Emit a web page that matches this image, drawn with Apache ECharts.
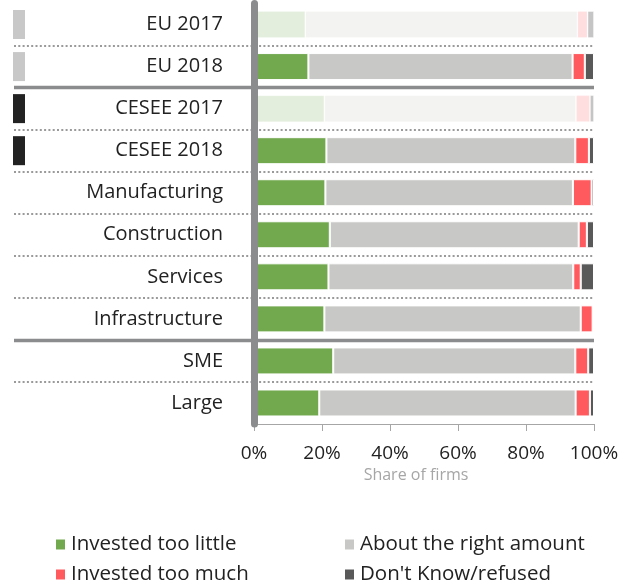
<!DOCTYPE html>
<html>
<head>
<meta charset="utf-8">
<script src="https://cdn.jsdelivr.net/npm/echarts@6/dist/echarts.min.js"></script>
<style>
html,body{margin:0;padding:0;background:#fff;}
#chart{width:636px;height:586px;}
</style>
</head>
<body>
<div id="chart"></div>
<script>
// ---- data ----
var categories = ['EU 2017','EU 2018','CESEE 2017','CESEE 2018','Manufacturing','Construction','Services','Infrastructure','SME','Large'];
var investedTooLittle = [15.1, 16.0, 20.7, 21.3, 21.0, 22.3, 21.9, 20.7, 23.3, 19.2];
var aboutRight        = [80.0, 77.7, 74.0, 73.2, 72.8, 73.2, 72.0, 75.4, 71.2, 75.4];
var investedTooMuch   = [3.0, 3.6, 4.1, 4.0, 5.5, 2.4, 2.2, 3.5, 3.8, 4.2];
var dontKnow          = [1.9, 2.7, 1.2, 1.5, 0.7, 2.1, 3.9, 0.4, 1.7, 1.2];
var seriesNames = ['Invested too little','About the right amount','Invested too much',"Don't Know/refused"];
var fadedRows = ['EU 2017','CESEE 2017'];
var markerGroup = ['EU','EU','CESEE','CESEE','','','','','',''];
var solidAfter = ['EU 2018','Infrastructure'];
var xTicks = [0, 20, 40, 60, 80, 100];

// ---- styles ----
var colors = ['#72a94f','#c8c8c6','#ff5b5e','#595959'];
var fadedOpacity = [0.2, 0.22, 0.2, 0.35];
var markerColors = {EU:'#c8c8c8', CESEE:'#222222'};
var FONT = '"Open Sans", "Noto Sans", sans-serif';

var allValues = [investedTooLittle, aboutRight, investedTooMuch, dontKnow];
function mk(values, k){
  return values.map(function(v,i){
    var faded = fadedRows.indexOf(categories[i]) >= 0;
    return faded ? {value:v, itemStyle:{opacity:fadedOpacity[k]}} : v;
  });
}

var TOP = 3.5, HEIGHT = 420.5;

var series = allValues.map(function(vals, k){
  return {
    name: seriesNames[k], type:'bar', stack:'total',
    xAxisIndex:0, yAxisIndex:0,
    barWidth: 27,
    itemStyle:{color:colors[k], borderColor:'#ffffff', borderWidth:1},
    data: mk(vals, k),
    z:2
  };
});

// separators
var sepData = [];
for (var i = 1; i < categories.length; i++) {
  var solid = solidAfter.indexOf(categories[i-1]) >= 0;
  sepData.push({
    yAxis: i,
    lineStyle: solid ? {type:'solid', width:3.3, color:'#8a8c8e'}
                     : {type:[2,2.3], width:2, color:'#9a9a9a'}
  });
}
series.push({
  type:'line', xAxisIndex:1, yAxisIndex:1, data:[[0,0]],
  symbol:'none', lineStyle:{opacity:0}, silent:true, z:1,
  markLine:{silent:true, symbol:['none','none'], label:{show:false}, animation:false, data: sepData}
});

// markers
series.push({
  type:'bar', xAxisIndex:2, yAxisIndex:2, barWidth:29, silent:true,
  data: markerGroup.map(function(g){
    return g ? {value:1, itemStyle:{color:markerColors[g]}} : '-';
  })
});

var legendText = {fontSize:20.5, color:'#222', fontFamily:FONT, lineHeight:20};
var option = {
  animation:false,
  textStyle:{fontFamily:FONT},
  grid:[
    {left:254, right:42, top:TOP, height:HEIGHT},
    {left:14, right:42, top:TOP, height:HEIGHT},
    {left:13, width:12, top:TOP, height:HEIGHT}
  ],
  xAxis:[
    {type:'value', gridIndex:0, min:xTicks[0], max:xTicks[xTicks.length-1], interval:xTicks[1]-xTicks[0],
     axisLine:{show:true, lineStyle:{color:'#a6a6a6', width:1}},
     axisTick:{show:true, length:7, lineStyle:{color:'#a6a6a6'}},
     splitLine:{show:false},
     axisLabel:{formatter:'{value}%', fontSize:19, color:'#222', margin:20, fontFamily:FONT},
     name:'Share of firms', nameLocation:'middle', nameGap:42,
     nameTextStyle:{fontSize:16, color:'#a6a6a6', fontFamily:FONT, padding:[0,16,0,0]}
    },
    {type:'value', gridIndex:1, min:0, max:1, show:false},
    {type:'value', gridIndex:2, min:0, max:1, show:false}
  ],
  yAxis:[
    {type:'category', gridIndex:0, data:categories, inverse:true, z:5,
     axisLine:{show:true, lineStyle:{color:'#8a8c8e', width:7}},
     axisTick:{show:false},
     axisLabel:{fontSize:20, color:'#222', margin:31, fontFamily:FONT, padding:[3,0,0,0]}
    },
    {type:'value', gridIndex:1, min:0, max:categories.length, inverse:true, show:false},
    {type:'category', gridIndex:2, data:categories, inverse:true, show:false}
  ],
  legend:[
    {orient:'vertical', left:54, top:534, height:120, width:260, padding:0, itemWidth:11, itemHeight:12, itemGap:9,
     icon:'rect', data:[seriesNames[0], seriesNames[2]],
     textStyle:legendText, selectedMode:false},
    {orient:'vertical', left:343, top:534, height:120, width:280, padding:0, itemWidth:11, itemHeight:12, itemGap:9,
     icon:'rect', data:[seriesNames[1], seriesNames[3]],
     textStyle:legendText, selectedMode:false}
  ],
  series: series
};

var chart = echarts.init(document.getElementById('chart'), null, {renderer:'canvas'});
chart.setOption(option);
</script>
</body>
</html>
